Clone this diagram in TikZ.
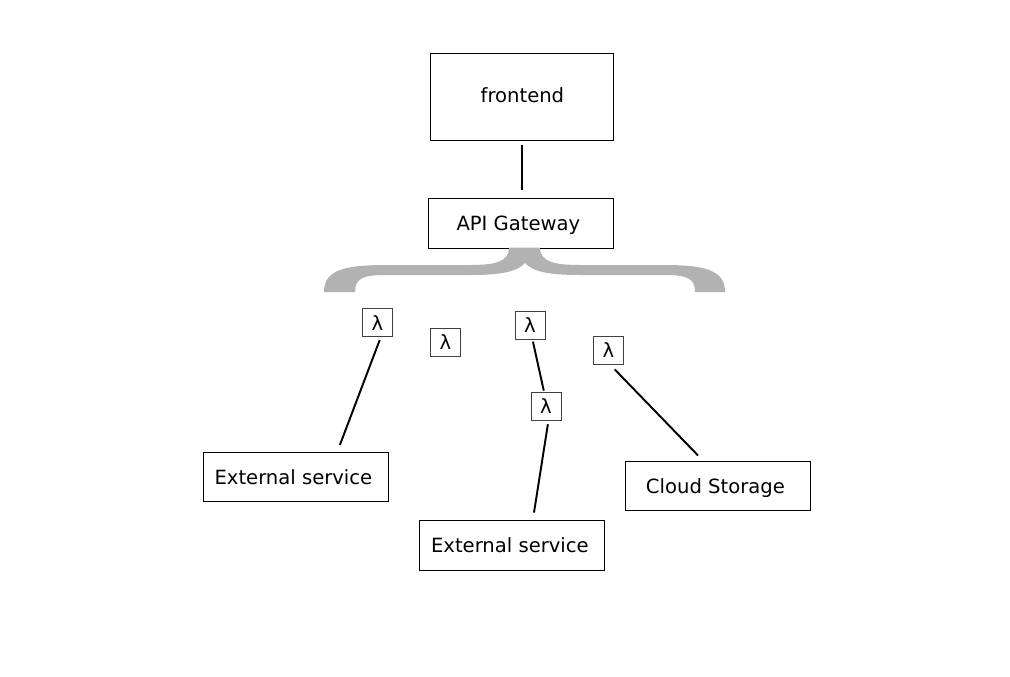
\documentclass[tikz,border=0pt]{standalone}
\usepackage{fontspec}
\setmainfont{DejaVu Sans}
\tikzset{
  service/.style={rectangle,draw,line width=0.5pt,inner sep=0pt,text height=8.9pt,text depth=0pt,font=\fontsize{11.15}{13}\selectfont},
  lambdabox/.style={rectangle,draw=black!75,line width=0.4pt,inner sep=0pt,minimum width=0.6cm,minimum height=0.56cm,font=\fontsize{11.15}{13}\selectfont},
  link/.style={line width=1.1pt},
}
\begin{document}
\begin{tikzpicture}[x=0.02cm,y=-0.02cm]
  \useasboundingbox (0,0) rectangle (1010,676);

  % Define nodes
  \node (frontend) [service,text height=6.7pt,minimum width=3.66cm,minimum height=1.74cm] at (522.4,96.45) {frontend};
  \node (gateway) [service,minimum width=3.7cm,minimum height=1cm] at (521.4,222.95) {API Gateway\kern0.12cm};
  \node (external1) [service,minimum width=3.7cm,minimum height=0.98cm] at (296.4,476.45) {External service\kern0.12cm};
  \node (external2) [service,minimum width=3.7cm,minimum height=1cm] at (512.4,544.95) {External service\kern0.1cm};
  \node (storage) [service,minimum width=3.7cm,minimum height=0.98cm] at (718.4,485.45) {Cloud Storage\kern0.12cm};
  \node (lambda1) [lambdabox] at (377.3,322.8) {λ};
  \node (lambda2) [lambdabox] at (445.3,342.3) {λ};
  \node (lambda3) [lambdabox] at (530,325.3) {λ};
  \node (lambda4) [lambdabox] at (608.3,350) {λ};
  \node (lambda5) [lambdabox] at (546,406) {λ};

  % Draw brace
  \fill [black!30] (509,247.5) .. controls (509,262) and (495,265) .. (470,265)
    -- (385,265) .. controls (340,265) and (324,272) .. (324,292)
    -- (355,292) .. controls (355,279) and (362,275) .. (385,275)
    -- (470,275) .. controls (500,275) and (517,272) .. (525,263)
    .. controls (533,272) and (550,275) .. (580,275)
    -- (665,275) .. controls (688,275) and (695,279) .. (695,292)
    -- (725,292) .. controls (725,272) and (709,265) .. (665,265)
    -- (580,265) .. controls (555,265) and (540,262) .. (540,247.5) -- cycle;

  % Draw edges
  \draw [link,shorten >=0.16cm,shorten <=0.1cm] (frontend.south) -- ([xshift=0.02cm]gateway.north);
  \draw [link,shorten <=0.06cm,shorten >=0.14cm] ([xshift=0.07cm]lambda1.south) -- ([xshift=0.82cm]external1.north);
  \draw [link,shorten <=0.04cm,shorten >=0.02cm] ([xshift=0.05cm]lambda3.south) -- ([xshift=-0.04cm]lambda5.north);
  \draw [link,shorten <=0.08cm,shorten >=0.14cm] ([xshift=0.05cm]lambda5.south) -- ([xshift=0.41cm]external2.north);
  \draw [link,shorten <=0.14cm,shorten >=0.14cm] ([xshift=0.03cm]lambda4.south) -- ([xshift=-0.31cm]storage.north);
\end{tikzpicture}
\end{document}
